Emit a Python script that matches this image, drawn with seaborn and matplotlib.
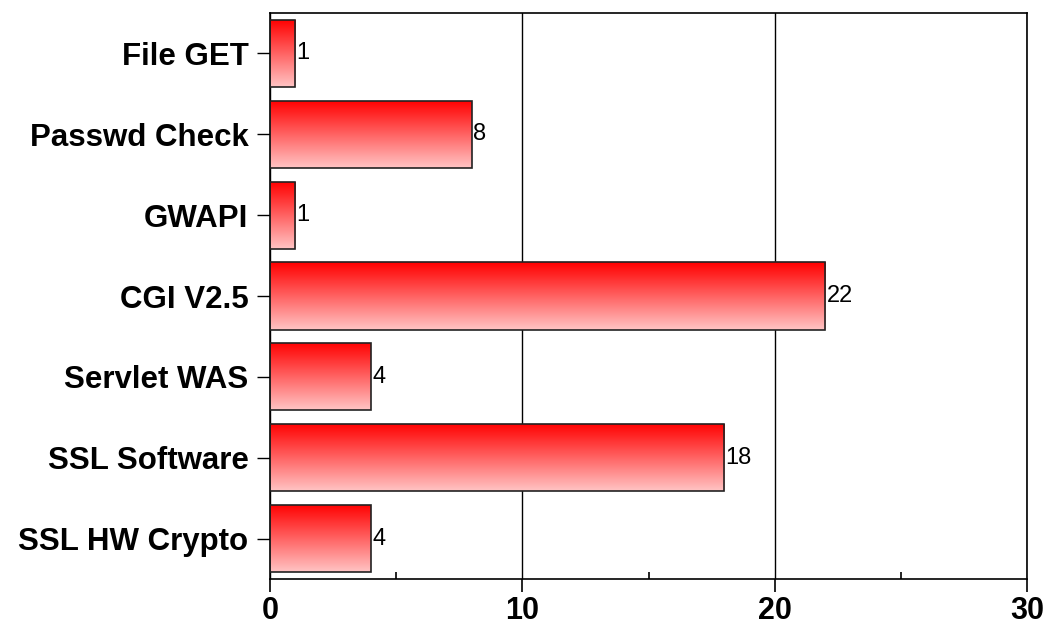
import numpy as np
import pandas as pd
import matplotlib
matplotlib.use("Agg")
import matplotlib.pyplot as plt
import seaborn as sns
from matplotlib.colors import LinearSegmentedColormap
from matplotlib.ticker import MultipleLocator

categories = ["File GET", "Passwd Check", "GWAPI", "CGI V2.5", "Servlet WAS", "SSL Software", "SSL HW Crypto"]
values = [1, 8, 1, 22, 4, 18, 4]

sns.set_style("white")
plt.rcParams['font.family'] = ['Liberation Sans', 'DejaVu Sans']

df = pd.DataFrame({"cat": categories, "val": values})

fig = plt.figure(figsize=(10.46, 6.27), dpi=100)
ax = fig.add_axes([270/1046, 1-579/627, (1027-270)/1046, (579-13)/627])

sns.barplot(data=df, x="val", y="cat", orient="h", color="red", width=0.83,
            edgecolor="#222222", linewidth=1.2, ax=ax, zorder=3)

cmap = LinearSegmentedColormap.from_list("grad", ["#ff0000", "#ffc4c4"])
grad = np.linspace(0, 1, 256).reshape(-1, 1)
for p in ax.patches:
    x0, y0 = p.get_x(), p.get_y()
    w, h = p.get_width(), p.get_height()
    p.set_facecolor("none")
    im = ax.imshow(grad, cmap=cmap, aspect="auto", extent=[x0, x0 + w, y0 + h, y0],
                   origin="upper", zorder=2.5)
    im.set_clip_path(p)
    ax.text(x0 + w + 0.05, y0 + h / 2, f"{int(w)}", va="center", ha="left",
            fontsize=17, color="black", zorder=4)

ax.set_xlim(0, 30)
ax.set_ylim(6.5, -0.5)
ax.set_xlabel("")
ax.set_ylabel("")
ax.xaxis.set_major_locator(MultipleLocator(10))
ax.xaxis.set_minor_locator(MultipleLocator(5))
ax.grid(axis="x", which="major", color="black", linewidth=1, zorder=1)
ax.set_axisbelow(True)
ax.tick_params(axis="x", which="major", direction="out", length=9.5, width=1.2, colors="black",
               labelsize=22, pad=3, bottom=True)
ax.tick_params(axis="x", which="minor", direction="in", length=5, width=1.2, colors="black",
               bottom=True)
ax.tick_params(axis="y", which="major", direction="out", length=9.5, width=1, colors="black",
               labelsize=22.5, pad=6, left=True)
for lbl in ax.get_xticklabels() + ax.get_yticklabels():
    lbl.set_fontweight("bold")
for s in ax.spines.values():
    s.set_visible(True)
    s.set_color("black")
    s.set_linewidth(1.2)

fig.savefig("out.png", dpi=100)
